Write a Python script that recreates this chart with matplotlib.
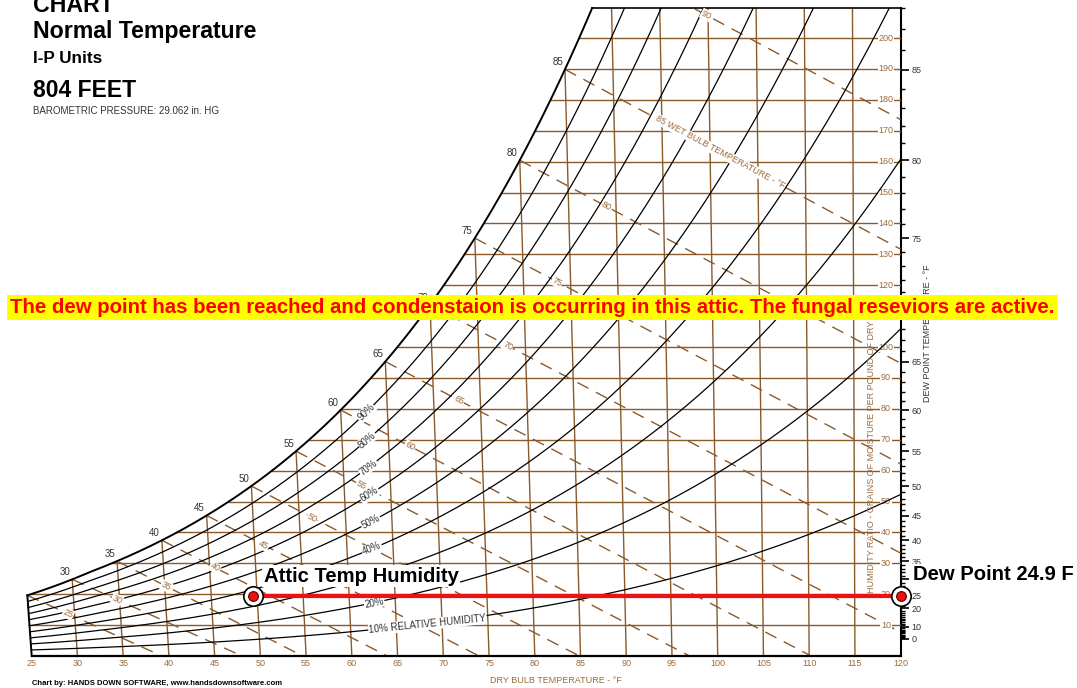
import numpy as np
import matplotlib
matplotlib.use("Agg")
import matplotlib.pyplot as plt

plt.rcParams['font.family'] = ['Liberation Sans', 'DejaVu Sans']

# chart values
pressure_inhg = 29.062
dry_bulb_ticks = list(range(25, 121, 5))
dry_bulb_lines = list(range(30, 116, 5))
grain_lines = list(range(10, 201, 10))
rh_levels = [10, 20, 30, 40, 50, 60, 70, 80, 90]
rh_label_levels = [20, 40, 50, 60, 70, 80, 90]
wet_bulb_levels = list(range(25, 91, 5))
sat_labels = list(range(30, 86, 5))
dew_point_ticks = [0, 10, 20, 25, 30, 35, 40, 45, 50, 55, 60, 65, 70, 75, 80, 85]
attic_temp = 49.5
dew_point = 24.9
w_top = 209.7

brown = '#8b5a2b'
tan = '#9c6b3c'
gray = '#333333'

P = pressure_inhg * 0.491154


def pws(t):
    T = np.asarray(t, dtype=float) + 459.67
    ice = np.exp(-1.0214165e4 / T - 4.8932428 - 5.3765794e-3 * T + 1.9202377e-7 * T**2
                 + 3.5575832e-10 * T**3 - 9.0344688e-14 * T**4 + 4.1635019 * np.log(T))
    water = np.exp(-1.0440397e4 / T - 1.1294650e1 - 2.7022355e-2 * T + 1.2890360e-5 * T**2
                   - 2.4780681e-9 * T**3 + 6.5459673 * np.log(T))
    return np.where(T < 491.67, ice, water)


def w_sat(t):
    p = pws(t)
    return 7000 * 0.621945 * p / (P - p)


def w_rh(t, rh):
    p = rh / 100 * pws(t)
    return 7000 * 0.621945 * p / (P - p)


def w_wb(t, tw):
    ws = w_sat(tw) / 7000
    if tw >= 32:
        w = ((1093 - 0.556 * tw) * ws - 0.240 * (t - tw)) / (1093 + 0.444 * t - tw)
    else:
        w = ((1220 - 0.04 * tw) * ws - 0.240 * (t - tw)) / (1220 + 0.444 * t - 0.48 * tw)
    return 7000 * w


def xs(t, w):
    # dry bulb lines lean slightly to the left going up
    return t - 2.555e-4 * (120 - t) * w


tg = np.linspace(25, 95, 3000)
wsg = w_sat(tg)


def t_at_sat(w):
    return np.interp(w, wsg, tg)


fig = plt.figure(figsize=(10.77, 6.88), dpi=100)
ax = fig.add_axes([22.55 / 1077, 32 / 688, 878.1 / 1077, 647.9 / 688])
ax.set_xlim(24, 120)
ax.set_ylim(0, w_top)
for s in ax.spines.values():
    s.set_visible(False)
ax.set_xticks(dry_bulb_ticks)
ax.set_xticklabels([str(v) for v in dry_bulb_ticks])
ax.tick_params(axis='x', length=0, pad=2.5, labelsize=6.5, labelcolor=tan)
ax.set_yticks([])

# dew point axis (kept underneath the chart so the marker sits on top)
ax2 = ax.twinx()
ax2.set_ylim(0, w_top)
ax.set_zorder(ax2.get_zorder() + 1)
ax.patch.set_visible(False)
for k, s in ax2.spines.items():
    s.set_visible(k == 'right')
ax2.spines['right'].set_linewidth(1.5)
ax2.set_yticks(w_sat(np.array(dew_point_ticks)))
ax2.set_yticklabels([str(v) for v in dew_point_ticks])
minor = [d for d in range(0, 89) if d not in dew_point_ticks]
ax2.set_yticks(w_sat(np.array(minor)), minor=True)
ax2.tick_params(axis='y', which='major', length=6, width=1.2, pad=2, labelsize=6.5, labelcolor=gray)
ax2.tick_params(axis='y', which='minor', length=3, width=1.0)


def angle(x1, y1, x2, y2):
    p = ax.transData.transform([[x1, y1], [x2, y2]])
    return np.degrees(np.arctan2(p[1, 1] - p[0, 1], p[1, 0] - p[0, 0]))


# humidity ratio lines
for w in grain_lines:
    t0 = 25 if w < w_sat(25) else t_at_sat(w)
    ax.plot([xs(t0, w), 120], [w, w], color=brown, lw=1.0, zorder=1)
    ax.text(118.4, w, str(w), color=tan, fontsize=6.5, ha='center', va='center', zorder=2,
            bbox=dict(facecolor='white', edgecolor='none', pad=0.6))

# dry bulb lines
for t in dry_bulb_lines:
    wt = min(w_sat(t), w_top)
    ax.plot([t, xs(t, wt)], [0, wt], color=brown, lw=1.0, zorder=1)

# wet bulb lines
for tw in wet_bulb_levels:
    t = np.linspace(tw, 120, 400)
    w = w_wb(t, tw)
    keep = w >= 0
    ax.plot(xs(t[keep], w[keep]), w[keep], color=brown, lw=1.0, dashes=(9, 6), zorder=1)
    tl = tw + 4.3 + 0.085 * (tw - 25)
    wl = w_wb(tl, tw)
    rot = angle(xs(tl - 1, w_wb(tl - 1, tw)), w_wb(tl - 1, tw), xs(tl + 1, w_wb(tl + 1, tw)), w_wb(tl + 1, tw))
    if tw == 85:
        ax.text(xs(tl, wl), wl, '85 WET BULB TEMPERATURE - °F', color=tan, fontsize=6.5, rotation=rot,
                rotation_mode='anchor', ha='left', va='center', zorder=4,
                bbox=dict(facecolor='white', edgecolor='none', pad=0.5))
    else:
        ax.text(xs(tl, wl), wl, str(tw), color=tan, fontsize=6.5, rotation=rot,
                rotation_mode='anchor', ha='center', va='center', zorder=4,
                bbox=dict(facecolor='white', edgecolor='none', pad=0.5))

# relative humidity curves
t = np.linspace(25, 120, 600)
for rh in rh_levels:
    w = w_rh(t, rh)
    ax.plot(xs(t, w), w, color='black', lw=0.9, zorder=3)
for rh in rh_label_levels + [10]:
    tl = 62.0 if rh == 10 else 62.7
    wl = w_rh(tl, rh)
    rot = angle(xs(tl - 1, w_rh(tl - 1, rh)), w_rh(tl - 1, rh), xs(tl + 1, w_rh(tl + 1, rh)), w_rh(tl + 1, rh))
    if rh == 10:
        ax.text(xs(tl, wl), wl, '10% RELATIVE HUMIDITY', color=gray, fontsize=7, rotation=rot,
                rotation_mode='anchor', ha='left', va='center', zorder=4,
                bbox=dict(facecolor='white', edgecolor='none', pad=0.5))
    else:
        ax.text(xs(tl, wl), wl, f'{rh}%', color=gray, fontsize=7, rotation=rot,
                rotation_mode='anchor', ha='center', va='center', zorder=4,
                bbox=dict(facecolor='white', edgecolor='none', pad=0.5))

# saturation curve and chart boundary
t_top = t_at_sat(w_top)
ts = np.linspace(25, t_top, 400)
ax.plot(xs(ts, w_sat(ts)), w_sat(ts), color='black', lw=1.4, zorder=3, clip_on=False)
ax.plot([xs(t_top, w_top), 120], [w_top, w_top], color='black', lw=1.2, zorder=3, clip_on=False)
ax.plot([25, xs(25, w_sat(25))], [0, w_sat(25)], color='black', lw=1.4, zorder=3, clip_on=False)
ax.plot([25, 120], [0, 0], color='black', lw=1.6, zorder=3, clip_on=False)
for v in sat_labels:
    ax.annotate(str(v), (xs(v, w_sat(v)), w_sat(v)), xytext=(-1.5, 1.5), textcoords='offset points',
                ha='right', va='bottom', fontsize=7, color=gray, zorder=4)

# attic state and dew point
w_dp = w_sat(dew_point)
ax.plot([xs(attic_temp, w_dp), 120], [w_dp, w_dp], color='#ee1111', lw=3, zorder=5, solid_capstyle='butt')
for x in [xs(attic_temp, w_dp), 120]:
    ax.plot([x], [w_dp], 'o', ms=14, mfc='white', mec='black', mew=1.2, zorder=6, clip_on=False)
    ax.plot([x], [w_dp], 'o', ms=7, mfc='#ee1111', mec='#550000', mew=0.8, zorder=7, clip_on=False)
ax.annotate('Attic Temp Humidity', (xs(attic_temp, w_dp), w_dp), xytext=(7.9, 10), textcoords='offset points',
            ha='left', va='baseline', fontsize=14.6, fontweight='bold', zorder=8,
            bbox=dict(facecolor='white', edgecolor='none', pad=1))
ax.annotate('Dew Point 24.9 F', (120, w_dp), xytext=(8.6, 11), textcoords='offset points',
            ha='left', va='baseline', fontsize=14.6, fontweight='bold', zorder=8, annotation_clip=False,
            bbox=dict(facecolor='white', edgecolor='none', pad=1))

# titles and side labels
fig.text(33 / 1077, 1 - 11.7 / 688, 'CHART', fontsize=16.7, fontweight='bold', va='baseline')
fig.text(33 / 1077, 1 - 38.3 / 688, 'Normal Temperature', fontsize=16.7, fontweight='bold', va='baseline')
fig.text(33 / 1077, 1 - 62.7 / 688, 'I-P Units', fontsize=12.3, fontweight='bold', va='baseline')
fig.text(33 / 1077, 1 - 96.7 / 688, '804 FEET', fontsize=16.5, fontweight='bold', va='baseline')
fig.text(33 / 1077, 1 - 114.3 / 688, 'BAROMETRIC PRESSURE: 29.062 in. HG', fontsize=7, color=gray, va='baseline')
fig.text(32 / 1077, 1 - 685 / 688, 'Chart by: HANDS DOWN SOFTWARE, www.handsdownsoftware.com',
         fontsize=5.5, fontweight='bold', va='baseline')
fig.text(556 / 1077, 1 - 683 / 688, 'DRY BULB TEMPERATURE - °F', fontsize=6.5, color=tan, ha='center', va='baseline')
fig.text(928 / 1077, 1 - 333 / 688, 'DEW POINT TEMPERATURE - °F', fontsize=6.5, color=gray, rotation=90,
         ha='center', va='center')
fig.text(872 / 1077, 1 - 593 / 688, 'HUMIDITY RATIO - GRAINS OF MOISTURE PER POUND OF DRY AIR', fontsize=6.5,
         color=tan, rotation=90, rotation_mode='anchor', ha='left', va='center', zorder=4)

fig.text(532.5 / 1077, 1 - 307.5 / 688,
         'The dew point has been reached and condenstaion is occurring in this attic. The fungal reseviors are active.',
         fontsize=14.7, fontweight='bold', color='#ff0000', ha='center', va='center', zorder=20,
         bbox=dict(facecolor='#ffff00', edgecolor='none', pad=2.0))

fig.savefig('out.png', dpi=100)
